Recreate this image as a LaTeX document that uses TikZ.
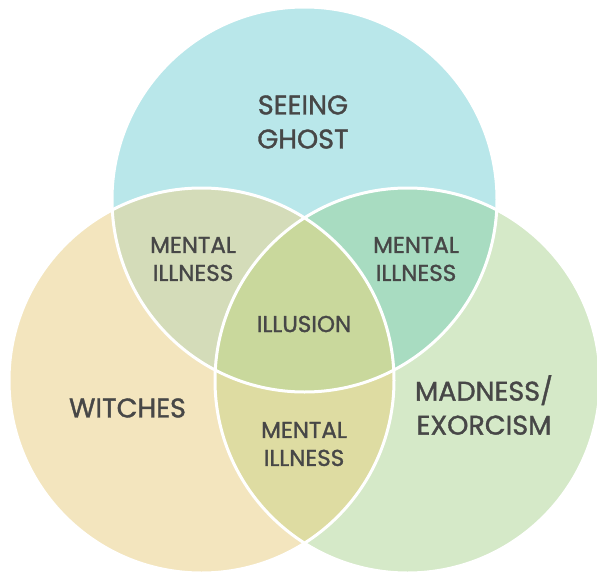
\documentclass[tikz,border=0pt]{standalone}
\usepackage{fontspec}
\setmainfont{Poppins}[FakeBold=1.3]
\definecolor{cTop}{HTML}{B9E7EA}
\definecolor{cLeft}{HTML}{F3E5BE}
\definecolor{cRight}{HTML}{D5E9C8}
\definecolor{cTL}{HTML}{D4DCB9}
\definecolor{cTR}{HTML}{A8DCC1}
\definecolor{cLR}{HTML}{DEDCA2}
\definecolor{cAll}{HTML}{C9D89C}
\definecolor{ink}{HTML}{474747}
\begin{document}
\begin{tikzpicture}[x=1pt,y=-1pt,
  big/.style={text=ink,font=\fontsize{27}{34}\selectfont,align=center,inner sep=0pt},
  small/.style={text=ink,font=\fontsize{23}{28}\selectfont,align=center,inner sep=0pt},
  edge/.style={draw=white,line width=3pt}]
\useasboundingbox (0,0) rectangle (597,573);
\fill[white] (0,0) rectangle (597,573);
\def\R{192.5}
\coordinate (T) at (304.5,199.5);
\coordinate (L) at (201.5,380.5);
\coordinate (Rc) at (407.5,380.5);
% single circles
\fill[cTop] (T) circle (\R);
\fill[cLeft] (L) circle (\R);
\fill[cRight] (Rc) circle (\R);
% pairwise intersections
\begin{scope}
  \clip (T) circle (\R);
  \fill[cTL] (L) circle (\R);
  \fill[cTR] (Rc) circle (\R);
\end{scope}
\begin{scope}
  \clip (L) circle (\R);
  \fill[cLR] (Rc) circle (\R);
\end{scope}
\begin{scope}
  \clip (T) circle (\R);
  \clip (L) circle (\R);
  \fill[cAll] (Rc) circle (\R);
\end{scope}
% outlines
\draw[edge] (T) circle (\R);
\draw[edge] (L) circle (\R);
\draw[edge] (Rc) circle (\R);
% labels
\node[big] (seeing) at (303,122) {SEEING\\GHOST};
\node[big] (witches) at (127.5,408) {WITCHES};
\node[big] (madness) at (484,405) {MADNESS/\\EXORCISM};
\node[small] (mtl) at (193,259) {MENTAL\\ILLNESS};
\node[small] (mtr) at (416,259) {MENTAL\\ILLNESS};
\node[small] (mlr) at (304,444) {MENTAL\\ILLNESS};
\node[small] (illusion) at (304,324) {ILLUSION};
\end{tikzpicture}
\end{document}
